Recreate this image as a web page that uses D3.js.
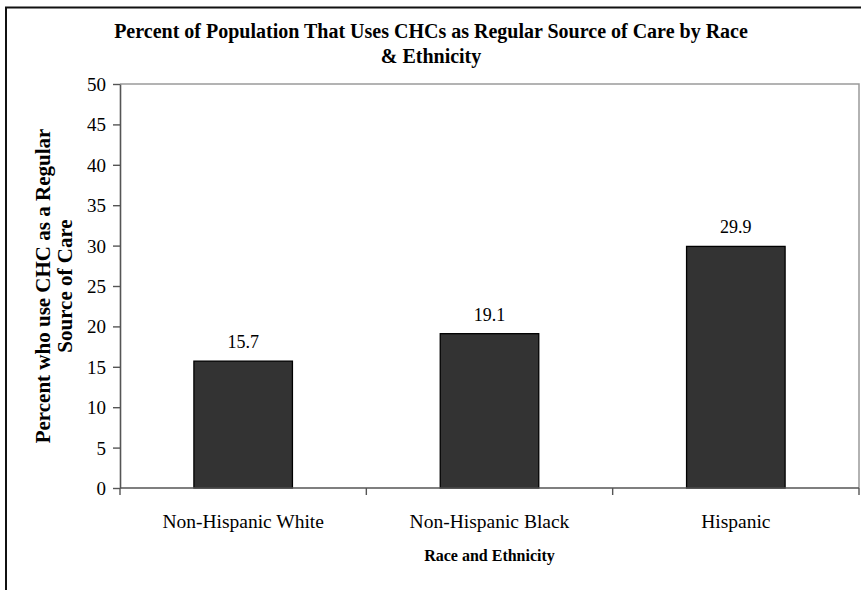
<!DOCTYPE html>
<html>
<head>
<meta charset="utf-8">
<script src="https://cdn.jsdelivr.net/npm/d3@7"></script>
<style>
  html, body { margin: 0; padding: 0; background: #fff; }
  svg { display: block; }
  svg text { font-family: "Liberation Serif", "Times New Roman", Times, serif; fill: #000; }
</style>
</head>
<body>
<svg id="chart" width="861" height="590"></svg>
<script>
// Share of each group using a community health center as usual source of care
const categories = ["Non-Hispanic White", "Non-Hispanic Black", "Hispanic"];
const values = [15.7, 19.1, 29.9];
const yTicks = [0, 5, 10, 15, 20, 25, 30, 35, 40, 45, 50];
const titleLines = ["Percent of Population That Uses CHCs as Regular Source of Care by Race", "& Ethnicity"];
const yTitleLines = ["Percent who use CHC as a Regular", "Source of Care"];
const xTitle = "Race and Ethnicity";

const svg = d3.select("#chart");
const serif = "\"Liberation Serif\", \"Times New Roman\", Times, serif";

// Chart frame (only top and left edges fall inside the view)
svg.append("rect")
  .attr("x", 6).attr("y", 7.5)
  .attr("width", 900).attr("height", 620)
  .attr("fill", "#fff")
  .attr("stroke", "#111").attr("stroke-width", 2);

const plot = { left: 120, top: 84, right: 859, bottom: 488 };

const x = d3.scaleBand()
  .domain(categories)
  .range([plot.left, plot.right])
  .paddingInner(0.6)
  .paddingOuter(0.3);

const y = d3.scaleLinear()
  .domain([0, 50])
  .range([plot.bottom, plot.top]);

// Plot area border (top and right)
svg.append("path")
  .attr("d", `M${plot.left},${plot.top}H${plot.right}V${plot.bottom}`)
  .attr("fill", "none")
  .attr("stroke", "#9a9a9a")
  .attr("stroke-width", 1.5);

// Bars
svg.append("g").selectAll("rect")
  .data(values)
  .join("rect")
  .attr("x", (d, i) => x(categories[i]))
  .attr("y", d => y(d))
  .attr("width", x.bandwidth())
  .attr("height", d => y(0) - y(d))
  .attr("fill", "#333333")
  .attr("stroke", "#000")
  .attr("stroke-width", 1.3);

// Value labels
svg.append("g").selectAll("text")
  .data(values)
  .join("text")
  .attr("x", (d, i) => x(categories[i]) + x.bandwidth() / 2)
  .attr("y", d => y(d) - 13)
  .attr("text-anchor", "middle")
  .style("font-family", serif)
  .style("font-size", "18px")
  .text(d => d.toFixed(1));

// Y axis
const yAxis = svg.append("g")
  .attr("transform", `translate(${plot.left},0)`)
  .call(d3.axisLeft(y).tickValues(yTicks).tickSize(7).tickSizeOuter(0).tickPadding(7));
yAxis.select(".domain").attr("stroke", "#555").attr("stroke-width", 1.6);
yAxis.selectAll(".tick line").attr("stroke", "#555").attr("stroke-width", 1.4);
yAxis.selectAll(".tick text")
  .attr("dy", "0.34em")
  .style("font-family", serif).style("font-size", "19px").style("fill", "#000");

// X axis: ticks at category boundaries
const step = x.step();
const bounds = d3.range(categories.length + 1).map(i => plot.left + i * step);
const xg = svg.append("g");
xg.append("line")
  .attr("x1", plot.left).attr("x2", plot.right)
  .attr("y1", plot.bottom).attr("y2", plot.bottom)
  .attr("stroke", "#555").attr("stroke-width", 1.6);
xg.selectAll("line.tk")
  .data(bounds)
  .join("line")
  .attr("class", "tk")
  .attr("x1", d => d).attr("x2", d => d)
  .attr("y1", plot.bottom).attr("y2", plot.bottom + 7)
  .attr("stroke", "#555").attr("stroke-width", 1.4);
xg.selectAll("text")
  .data(categories)
  .join("text")
  .attr("x", d => x(d) + x.bandwidth() / 2)
  .attr("y", 528)
  .attr("text-anchor", "middle")
  .style("font-family", serif)
  .style("font-size", "19.5px")
  .text(d => d);

// Titles
svg.append("g").selectAll("text")
  .data(titleLines)
  .join("text")
  .attr("x", 431)
  .attr("y", (d, i) => 38 + i * 25)
  .attr("text-anchor", "middle")
  .style("font-family", serif)
  .style("font-weight", "bold")
  .style("font-size", "20px")
  .text(d => d);

svg.append("text")
  .attr("x", (plot.left + plot.right) / 2)
  .attr("y", 561)
  .attr("text-anchor", "middle")
  .style("font-family", serif)
  .style("font-weight", "bold")
  .style("font-size", "16px")
  .text(xTitle);

const yMid = (plot.top + plot.bottom) / 2;
svg.append("g")
  .attr("transform", `translate(0,${yMid}) rotate(-90)`)
  .selectAll("text")
  .data(yTitleLines)
  .join("text")
  .attr("x", 0)
  .attr("y", (d, i) => 50 + i * 22)
  .attr("text-anchor", "middle")
  .style("font-family", serif)
  .style("font-weight", "bold")
  .style("font-size", "21px")
  .text(d => d);
</script>
</body>
</html>
